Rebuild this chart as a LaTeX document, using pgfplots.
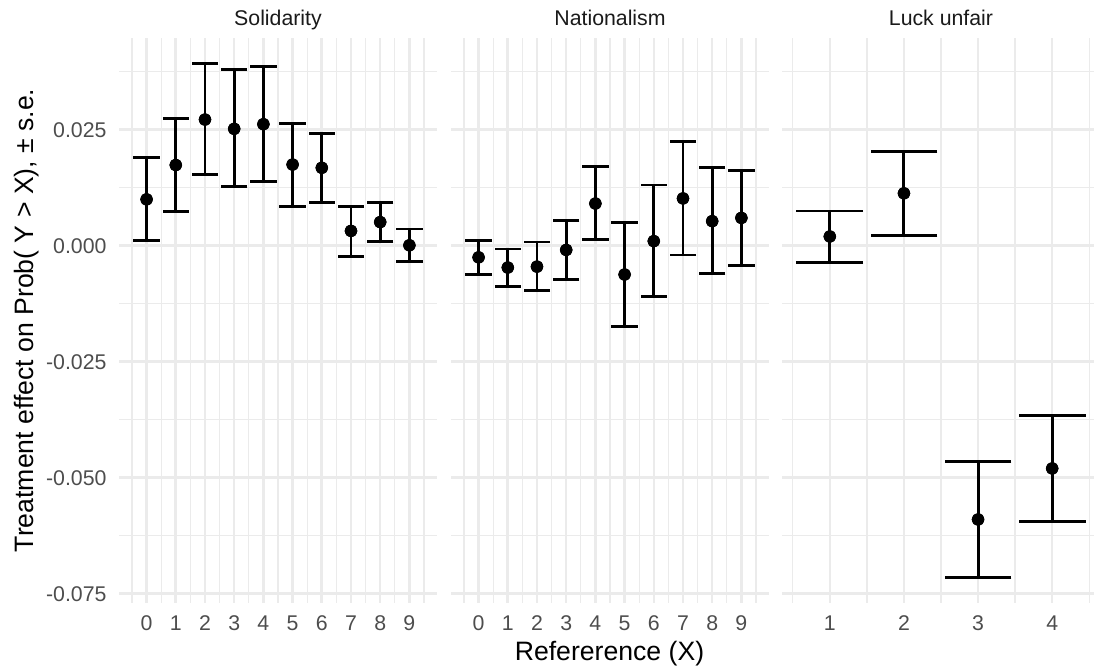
\documentclass[border=0pt]{standalone}
\usepackage{pgfplots}
\pgfplotsset{compat=1.18}
\usepackage{pgfplotstable}
\usepackage{fontspec}
\setmainfont{Liberation Sans}
\definecolor{gridc}{HTML}{EBEBEB}
\definecolor{tickc}{HTML}{4D4D4D}
\definecolor{stripc}{HTML}{1A1A1A}

\pgfplotstableread{
x y lo hi
0 0.0100 0.0011 0.0190
1 0.0174 0.0073 0.0275
2 0.0272 0.0153 0.0392
3 0.0252 0.0127 0.0380
4 0.0262 0.0138 0.0386
5 0.0175 0.0085 0.0264
6 0.0168 0.0094 0.0241
7 0.0032 -0.0023 0.0085
8 0.0051 0.0010 0.0094
9 0.0001 -0.0033 0.0036
}\solid

\pgfplotstableread{
x y lo hi
0 -0.0025 -0.0061 0.0011
1 -0.0047 -0.0087 -0.0007
2 -0.0045 -0.0097 0.0008
3 -0.0009 -0.0073 0.0055
4 0.0091 0.0013 0.0170
5 -0.0062 -0.0174 0.0050
6 0.0010 -0.0110 0.0131
7 0.0102 -0.0020 0.0224
8 0.0053 -0.0060 0.0168
9 0.0060 -0.0042 0.0163
}\nation

\pgfplotstableread{
x y lo hi
1 0.0020 -0.0036 0.0075
2 0.0113 0.0022 0.0204
3 -0.0590 -0.0715 -0.0466
4 -0.0480 -0.0594 -0.0366
}\luck

\pgfplotsset{
  panel/.style={
    scale only axis, width=131.4pt, height=233.5pt, anchor=south west,
    ymin=-0.0770, ymax=0.0448,
    ytick={-0.075,-0.05,-0.025,0,0.025},
    minor ytick={-0.0625,-0.0375,-0.0125,0.0125,0.0375},
    scaled y ticks=false,
    grid=both,
    major grid style={draw=gridc, line width=1.07pt},
    minor grid style={draw=gridc, line width=0.53pt},
    axis line style={draw=none},
    major tick length=0pt, minor tick length=0pt,
    tick style={draw=none},
    /pgf/number format/assume math mode=true,
    xticklabel style={font=\fontsize{8.8}{10}\selectfont, text=tickc, anchor=north, inner sep=0pt, yshift=-4.95pt},
    yticklabel style={font=\fontsize{8.8}{10}\selectfont, text=tickc, anchor=east, inner sep=0pt, xshift=-4.95pt},
  },
  ebar/.style={
    only marks, mark=none, black, line width=1.2pt,
    error bars/.cd, y dir=both, y explicit, error mark=none,
    error bar style={line width=1.2pt, black},
  },
  cap/.style={only marks, mark=-, mark size=#1, black, mark options={line width=1.2pt, black}},
  pt/.style={only marks, mark=*, mark size=2.4pt, mark options={draw=black, fill=black, line width=0.3pt}},
}

\begin{document}
\begin{tikzpicture}
% Panel 1: Solidarity
\begin{axis}[panel, at={(49.17pt,26.45pt)},
  xmin=-0.945, xmax=9.945,
  xtick={0,1,...,9}, minor xtick={-0.5,0.5,...,9.5},
  yticklabels={-0.075,-0.050,-0.025,0.000,0.025}]
\addplot[ebar] table[x=x, y=y, y error plus expr=\thisrow{hi}-\thisrow{y}, y error minus expr=\thisrow{y}-\thisrow{lo}] {\solid};
\addplot[cap=5.43pt] table[x=x, y=hi] {\solid};
\addplot[cap=5.43pt] table[x=x, y=lo] {\solid};
\addplot[pt] table[x=x, y=y] {\solid};
\end{axis}
% Panel 2: Nationalism
\begin{axis}[panel, at={(186.36pt,26.45pt)},
  xmin=-0.945, xmax=9.945,
  xtick={0,1,...,9}, minor xtick={-0.5,0.5,...,9.5},
  yticklabels={,,,,,}]
\addplot[ebar] table[x=x, y=y, y error plus expr=\thisrow{hi}-\thisrow{y}, y error minus expr=\thisrow{y}-\thisrow{lo}] {\nation};
\addplot[cap=5.43pt] table[x=x, y=hi] {\nation};
\addplot[cap=5.43pt] table[x=x, y=lo] {\nation};
\addplot[pt] table[x=x, y=y] {\nation};
\end{axis}
% Panel 3: Luck unfair
\begin{axis}[panel, at={(323.14pt,26.45pt)},
  xmin=0.355, xmax=4.645,
  xtick={1,2,3,4}, minor xtick={0.5,1.5,...,4.5},
  yticklabels={,,,,,}]
\addplot[ebar] table[x=x, y=y, y error plus expr=\thisrow{hi}-\thisrow{y}, y error minus expr=\thisrow{y}-\thisrow{lo}] {\luck};
\addplot[cap=13.8pt] table[x=x, y=hi] {\luck};
\addplot[cap=13.8pt] table[x=x, y=lo] {\luck};
\addplot[pt] table[x=x, y=y] {\luck};
\end{axis}
% strip titles
\node[anchor=base, text=stripc, font=\fontsize{8.8}{10}\selectfont, inner sep=0pt] at (114.88pt,265.1pt) {Solidarity};
\node[anchor=base, text=stripc, font=\fontsize{8.8}{10}\selectfont, inner sep=0pt] at (252.07pt,265.1pt) {Nationalism};
\node[anchor=base, text=stripc, font=\fontsize{8.8}{10}\selectfont, inner sep=0pt] at (388.84pt,265.1pt) {Luck unfair};
% axis titles
\node[anchor=base, font=\fontsize{11}{13}\selectfont, inner sep=0pt] at (251.86pt,2.48pt) {Refererence (X)};
\node[anchor=base, rotate=90, font=\fontsize{11}{13}\selectfont, inner sep=0pt] at (13.8pt,143.2pt) {Treatment effect on Prob( Y > X), ± s.e.};
\pgfresetboundingbox
\useasboundingbox (0,0) rectangle (452.07pt,275.62pt);
\end{tikzpicture}
\end{document}
